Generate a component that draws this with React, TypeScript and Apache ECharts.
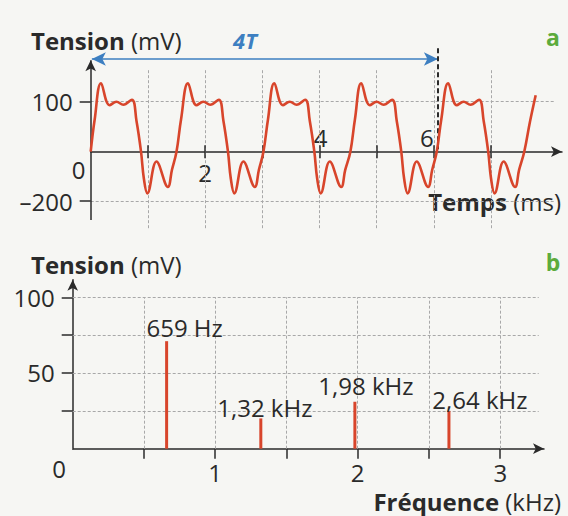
import React, { useEffect, useRef } from 'react';
import * as echarts from 'echarts';

// ---------- Chart a : waveform (time in ms, tension in mV) ----------
const WAVE_T = [
  0, 0.07, 0.18, 0.33, 0.45, 0.57, 0.72, 0.8, 0.88, 0.93, 0.99, 1.15, 1.35, 1.42,
  1.5, 1.58, 1.7, 1.85, 1.97, 2.09, 2.24, 2.32, 2.4, 2.45, 2.51, 2.67, 2.87, 2.94,
  3.02, 3.1, 3.21, 3.36, 3.48, 3.6, 3.75, 3.83, 3.91, 3.96, 4.02, 4.18, 4.38, 4.45,
  4.54, 4.62, 4.73, 4.88, 5.0, 5.12, 5.27, 5.35, 5.43, 5.48, 5.54, 5.7, 5.9, 5.97,
  6.05, 6.13, 6.25, 6.4, 6.52, 6.64, 6.79, 6.87, 6.95, 7.0, 7.06, 7.22, 7.42, 7.49,
  7.58, 7.68, 7.78,
];
const WAVE_MV = [
  0, 65, 137, 93, 100, 94, 104, 62, 0, -110, -169, -40, -143, -74,
  0, 65, 137, 93, 100, 94, 104, 62, 0, -110, -169, -40, -143, -74,
  0, 65, 137, 93, 100, 94, 104, 62, 0, -110, -169, -40, -143, -74,
  0, 65, 137, 93, 100, 94, 104, 62, 0, -110, -169, -40, -143, -74,
  0, 65, 137, 93, 100, 94, 104, 62, 0, -110, -169, -40, -143, -74,
  0, 60, 113,
];
const FOUR_T_MS = 6.07;
const TIME_TICKS = [1, 2, 3, 4, 5, 6, 7];
const TIME_TICK_LABELS = [0, 2, 4, 6];
const TENSION_TICK_LABELS_A = [100, -200];

// The printed axis is compressed below zero (-200 sits about as far as +100)
const NEG_SCALE = 0.493;
const toAxisA = (v: number) => (v < 0 ? v * NEG_SCALE : v);

// ---------- Chart b : spectrum ----------
const FREQ_KHZ = [0.659, 1.32, 1.98, 2.64];
const AMPL_MV = [71, 20, 31, 25];
const FREQ_NAMES = ['659 Hz', '1,32 kHz', '1,98 kHz', '2,64 kHz'];
const FREQ_TICKS = [0.5, 1, 1.5, 2, 2.5, 3];
const FREQ_TICK_LABELS = [1, 2, 3];
const AMPL_TICKS = [25, 50, 75, 100];
const AMPL_TICK_LABELS = [50, 100];

// label placement (styles, kept apart from the data)
const TIME_LABEL_OFFSETS = [[-12, 18], [0, 21], [1, -14], [-7, -14]];
const FREQ_LABEL_OFFSETS = [[18, -2], [4, 1], [11, -4], [31, 1]];

const FONT = '"Open Sans", "Noto Sans", sans-serif';
const INK = '#2a2a2a';
const GRAY = '#a8a8a8';
const RED = '#d8452b';
const BLUE = '#3d7fc1';
const GREEN = '#5cab3c';
const PAPER = '#f6f6f3';

const gridStyle = { color: GRAY, width: 1, type: [3, 2] as any };
const inkStyle = { color: INK, width: 1.5, type: 'solid' };

function markSeries(xi: number, data: any[], lineStyle: any, symbol: any = 'none', symbolSize: any = 10, z = 2) {
  return {
    type: 'line',
    xAxisIndex: xi,
    yAxisIndex: xi,
    data: [],
    silent: true,
    z,
    markLine: {
      silent: true,
      animation: false,
      symbol,
      symbolSize,
      label: { show: false },
      emphasis: { disabled: true },
      lineStyle,
      data,
    },
  };
}

function buildOption() {
  const A_YMIN = -156.6;
  const A_YMAX = 213.4;
  const aGridV = TIME_TICKS.map((t) => [{ coord: [t, 163] }, { coord: [t, -156] }]);
  const aGridH = TENSION_TICK_LABELS_A.map((v) => [{ coord: [0, toAxisA(v)] }, { coord: [8.12, toAxisA(v)] }]);
  const aTicks = TIME_TICKS.map((t) => [{ coord: [t, 13] }, { coord: [t, -13] }]);

  const bGridH = AMPL_TICKS.map((v) => [{ coord: [0, v] }, { coord: [3.27, v] }]);
  const bGridV = FREQ_TICKS.map((f) => [{ coord: [f, 0] }, { coord: [f, 100] }]);

  const numLabel = { fontSize: 24, color: INK, fontFamily: FONT };
  const pointLabel = { ...numLabel, opacity: 1, textBorderWidth: 0, textShadowBlur: 0 };

  return {
    animation: false,
    backgroundColor: 'transparent',
    grid: [
      { left: 90.7, right: 6, top: 45, bottom: 286 },
      { left: 72.7, right: 24, top: 279.7, bottom: 67.3 },
    ],
    xAxis: [
      {
        gridIndex: 0, type: 'value', min: 0, max: 8.24,
        axisLine: { onZero: true, symbol: ['none', 'arrow'], symbolSize: [8, 11], lineStyle: inkStyle },
        axisTick: { show: false }, axisLabel: { show: false }, splitLine: { show: false },
      },
      {
        gridIndex: 1, type: 'value', min: 0, max: 3.307,
        axisLine: { symbol: ['none', 'arrow'], symbolSize: [8, 11], lineStyle: inkStyle },
        axisTick: { show: true, customValues: FREQ_TICKS, length: 10, lineStyle: inkStyle },
        axisLabel: { show: true, customValues: FREQ_TICK_LABELS, margin: 12, formatter: (v: number) => String(v), ...numLabel },
        splitLine: { show: false },
      },
    ],
    yAxis: [
      {
        gridIndex: 0, type: 'value', min: A_YMIN, max: A_YMAX,
        axisLine: { show: false },
        axisTick: { show: true, customValues: TENSION_TICK_LABELS_A.map(toAxisA), length: 11, lineStyle: inkStyle },
        axisLabel: {
          show: true, customValues: TENSION_TICK_LABELS_A.map(toAxisA), margin: 18,
          formatter: (v: number) => (v < 0 ? '–' + Math.round(-v / NEG_SCALE) : String(Math.round(v))),
          ...numLabel,
        },
        splitLine: { show: false },
      },
      {
        gridIndex: 1, type: 'value', min: 0, max: 111.6,
        axisLine: { symbol: ['none', 'arrow'], symbolSize: [8, 11], lineStyle: inkStyle },
        axisTick: { show: true, customValues: AMPL_TICKS, length: 11, lineStyle: inkStyle },
        axisLabel: { show: true, customValues: AMPL_TICK_LABELS, margin: 18, formatter: (v: number) => String(v), ...numLabel },
        splitLine: { show: false },
      },
    ],
    series: [
      markSeries(0, [...aGridV, ...aGridH], gridStyle),
      markSeries(1, [...bGridH, ...bGridV], gridStyle),
      markSeries(0, aTicks, inkStyle, 'none', 10, 3),
      // y axis of chart a, drawn as a line with an arrow head
      markSeries(0, [[{ coord: [0, -136.6] }, { coord: [0, 183] }]], inkStyle, ['none', 'arrow'], [8, 11], 3),
      // 4T arrow
      markSeries(0, [[{ coord: [0.02, 185.4] }, { coord: [FOUR_T_MS, 185.4] }]], { color: BLUE, width: 1.6, type: 'solid' }, ['arrow', 'arrow'], [10, 14], 4),
      // dashed marker at 4T
      markSeries(0, [[{ coord: [FOUR_T_MS, 207] }, { coord: [FOUR_T_MS, 0] }]], { color: INK, width: 2, type: [5, 3] }, 'none', 10, 4),
      {
        type: 'line', xAxisIndex: 0, yAxisIndex: 0, z: 5, silent: true, clip: false,
        data: WAVE_T.map((t, i) => [t, toAxisA(WAVE_MV[i])]),
        smooth: 0.4, showSymbol: false, symbol: 'none',
        lineStyle: { color: RED, width: 2.6 },
      },
      {
        type: 'scatter', xAxisIndex: 0, yAxisIndex: 0, silent: true, clip: false, z: 1,
        symbolSize: 0.5, itemStyle: { color: PAPER, opacity: 1 },
        data: TIME_TICK_LABELS.map((t, i) => ({ value: [t, 0], label: { offset: TIME_LABEL_OFFSETS[i] } })),
        label: { show: true, position: 'inside', formatter: (p: any) => String(p.value[0]), ...pointLabel },
      },
      {
        type: 'scatter', xAxisIndex: 1, yAxisIndex: 1, silent: true, clip: false, z: 1,
        symbolSize: 0.5, itemStyle: { color: PAPER, opacity: 1 },
        data: [{ value: [0, 0], label: { offset: [-13.5, 20] } }],
        label: { show: true, position: 'inside', formatter: '0', ...pointLabel },
      },
      {
        type: 'bar', xAxisIndex: 1, yAxisIndex: 1, silent: true, z: 5,
        barWidth: 3,
        itemStyle: { color: RED },
        data: FREQ_KHZ.map((f, i) => ({ value: [f, AMPL_MV[i]], label: { offset: FREQ_LABEL_OFFSETS[i] } })),
        label: {
          show: true, position: 'top', distance: 0,
          formatter: (p: any) => FREQ_NAMES[p.dataIndex],
          ...numLabel,
        },
      },
    ],
    graphic: [
      titleText(31, 40, 'Tension', '(mV)', 'left'),
      titleText(31, 264, 'Tension', '(mV)', 'left'),
      titleText(561, 201, 'Temps', '(ms)', 'right'),
      titleText(561, 501, 'Fréquence', '(kHz)', 'right'),
      {
        type: 'text', x: 245, y: 40,
        style: {
          text: '4T', fill: BLUE, fontFamily: FONT, fontSize: 22, fontWeight: 'bold', fontStyle: 'italic',
          align: 'center', verticalAlign: 'middle', textAlign: 'center', textVerticalAlign: 'middle',
        },
      },
      letter(553, 36.5, 'a'),
      letter(553, 262, 'b'),
    ],
  };
}

function titleText(x: number, y: number, bold: string, normal: string, align: string) {
  return {
    type: 'text', x, y,
    style: {
      text: `{b|${bold}} {n|${normal}}`,
      fontFamily: FONT, fontSize: 24, fill: INK, lineHeight: 26,
      align, verticalAlign: 'middle', textAlign: align, textVerticalAlign: 'middle',
      rich: {
        b: { fontFamily: FONT, fontSize: 24, fontWeight: 'bold', fill: INK, color: INK, lineHeight: 26 },
        n: { fontFamily: FONT, fontSize: 24, fill: INK, color: INK, lineHeight: 26 },
      },
    },
  };
}

function letter(x: number, y: number, t: string) {
  return {
    type: 'text', x, y,
    style: {
      text: t, fill: GREEN, fontFamily: FONT, fontSize: 23, fontWeight: 'bold',
      align: 'center', verticalAlign: 'middle', textAlign: 'center', textVerticalAlign: 'middle',
    },
  };
}

export default function App() {
  const ref = useRef<HTMLDivElement>(null);
  useEffect(() => {
    const chart = echarts.init(ref.current!, null, { renderer: 'svg' });
    chart.setOption(buildOption() as any);
    return () => chart.dispose();
  }, []);
  return (
    <div
      ref={ref}
      style={{ position: 'fixed', left: 0, top: 0, width: 568, height: 516, background: PAPER }}
    />
  );
}
